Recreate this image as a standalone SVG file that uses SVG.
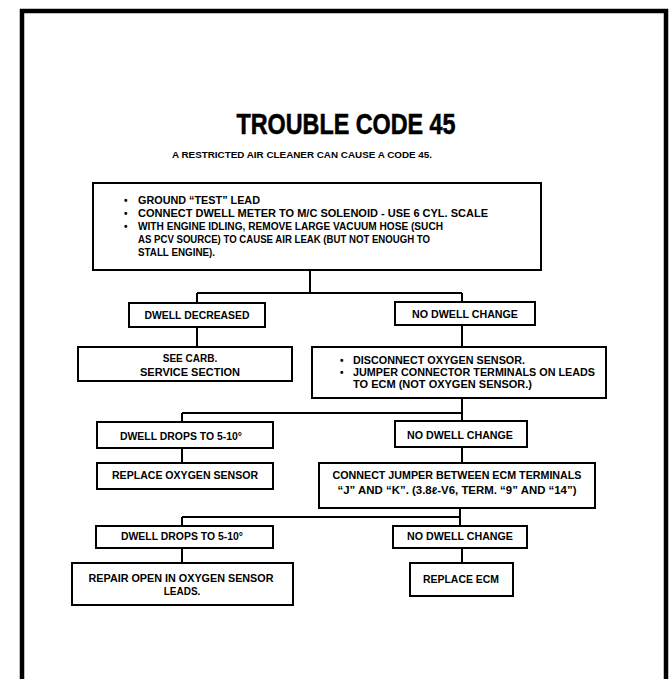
<svg xmlns="http://www.w3.org/2000/svg" width="672" height="679" viewBox="0 0 672 679">
<style>
.box{fill:#fff;stroke:#000;stroke-width:2}
.con{fill:none;stroke:#000;stroke-width:2}
.t{font-family:"Liberation Sans",Arial,sans-serif;font-weight:bold;font-size:10px;fill:#000}
.c{text-anchor:middle}
.title{font-size:30px;stroke:#000;stroke-width:0.6px}
.sub{font-size:9px}
</style>
<rect x="0" y="0" width="672" height="679" fill="#fff"/>
<path d="M22 690 V11 H666 V690" fill="none" stroke="#000" stroke-width="4.5"/>
<g id="title">
<text class="t c title" x="346" y="134" textLength="219" lengthAdjust="spacingAndGlyphs">TROUBLE CODE 45</text>
<text class="t sub" x="172" y="158" textLength="260" lengthAdjust="spacingAndGlyphs">A RESTRICTED AIR CLEANER CAN CAUSE A CODE 45.</text>
</g>
<g id="connectors">
<path class="con" d="M310 270 V293 M197 293 H462 M197 293 V303 M462 293 V302"/>
<path class="con" d="M197 327 V347 M462 325 V347"/>
<path class="con" d="M462 398 V421 M182 413 H462 M182 413 V422"/>
<path class="con" d="M182 448 V463 M462 447 V463"/>
<path class="con" d="M460 508 V526 M182 517 H460 M182 517 V526"/>
<path class="con" d="M182 548 V563 M462 548 V563"/>
</g>
<g id="n1">
<rect class="box" x="93" y="183" width="448" height="87"/>
<text class="t" x="124" y="204">•</text><text class="t" x="138" y="204" textLength="122" lengthAdjust="spacingAndGlyphs">GROUND “TEST” LEAD</text>
<text class="t" x="124" y="217">•</text><text class="t" x="138" y="217" textLength="350" lengthAdjust="spacingAndGlyphs">CONNECT DWELL METER TO M/C SOLENOID - USE 6 CYL. SCALE</text>
<text class="t" x="124" y="230">•</text><text class="t" x="138" y="230" textLength="305" lengthAdjust="spacingAndGlyphs">WITH ENGINE IDLING,  REMOVE LARGE VACUUM HOSE (SUCH</text>
<text class="t" x="138" y="243" textLength="292" lengthAdjust="spacingAndGlyphs">AS PCV SOURCE) TO CAUSE AIR LEAK (BUT NOT ENOUGH TO</text>
<text class="t" x="138" y="256" textLength="77" lengthAdjust="spacingAndGlyphs">STALL ENGINE).</text>
</g>
<g id="n2">
<rect class="box" x="129" y="303" width="136" height="24"/>
<text class="t c" x="197" y="319" textLength="105" lengthAdjust="spacingAndGlyphs">DWELL DECREASED</text>
</g>
<g id="n3">
<rect class="box" x="395" y="302" width="140" height="23"/>
<text class="t c" x="465" y="318" textLength="106" lengthAdjust="spacingAndGlyphs">NO DWELL CHANGE</text>
</g>
<g id="n4">
<rect class="box" x="78" y="347" width="214" height="34"/>
<text class="t c" x="190" y="362">SEE CARB.</text>
<text class="t c" x="190" y="376" textLength="100" lengthAdjust="spacingAndGlyphs">SERVICE  SECTION</text>
</g>
<g id="n5">
<rect class="box" x="312" y="347" width="294" height="51"/>
<text class="t" x="340" y="364">•</text><text class="t" x="353" y="364" textLength="172" lengthAdjust="spacingAndGlyphs">DISCONNECT OXYGEN SENSOR.</text>
<text class="t" x="340" y="376">•</text><text class="t" x="353" y="376" textLength="242" lengthAdjust="spacingAndGlyphs">JUMPER CONNECTOR TERMINALS ON LEADS</text>
<text class="t" x="353" y="388" textLength="179" lengthAdjust="spacingAndGlyphs">TO ECM (NOT OXYGEN SENSOR.)</text>
</g>
<g id="n6">
<rect class="box" x="97" y="422" width="176" height="26"/>
<text class="t c" x="181" y="440" textLength="122" lengthAdjust="spacingAndGlyphs">DWELL DROPS TO 5-10°</text>
</g>
<g id="n7">
<rect class="box" x="395" y="421" width="132" height="26"/>
<text class="t c" x="460" y="439" textLength="106" lengthAdjust="spacingAndGlyphs">NO DWELL CHANGE</text>
</g>
<g id="n8">
<rect class="box" x="97" y="463" width="176" height="26"/>
<text class="t c" x="185" y="479" textLength="146" lengthAdjust="spacingAndGlyphs">REPLACE OXYGEN SENSOR</text>
</g>
<g id="n9">
<rect class="box" x="319" y="463" width="276" height="45"/>
<text class="t c" x="457" y="479" textLength="249" lengthAdjust="spacingAndGlyphs">CONNECT JUMPER BETWEEN ECM TERMINALS</text>
<text class="t c" x="457" y="494" textLength="239" lengthAdjust="spacingAndGlyphs">“J” AND “K”. (3.8ℓ-V6, TERM. “9” AND “14”)</text>
</g>
<g id="n10">
<rect class="box" x="96" y="526" width="177" height="22"/>
<text class="t c" x="182" y="540" textLength="122" lengthAdjust="spacingAndGlyphs">DWELL DROPS TO 5-10°</text>
</g>
<g id="n11">
<rect class="box" x="393" y="526" width="134" height="22"/>
<text class="t c" x="460" y="540" textLength="106" lengthAdjust="spacingAndGlyphs">NO DWELL CHANGE</text>
</g>
<g id="n12">
<rect class="box" x="72" y="563" width="221" height="42"/>
<text class="t c" x="181" y="582" textLength="185" lengthAdjust="spacingAndGlyphs">REPAIR OPEN IN OXYGEN SENSOR</text>
<text class="t c" x="182" y="595">LEADS.</text>
</g>
<g id="n13">
<rect class="box" x="410" y="563" width="103" height="33"/>
<text class="t c" x="461" y="583" textLength="76" lengthAdjust="spacingAndGlyphs">REPLACE ECM</text>
</g>
</svg>
